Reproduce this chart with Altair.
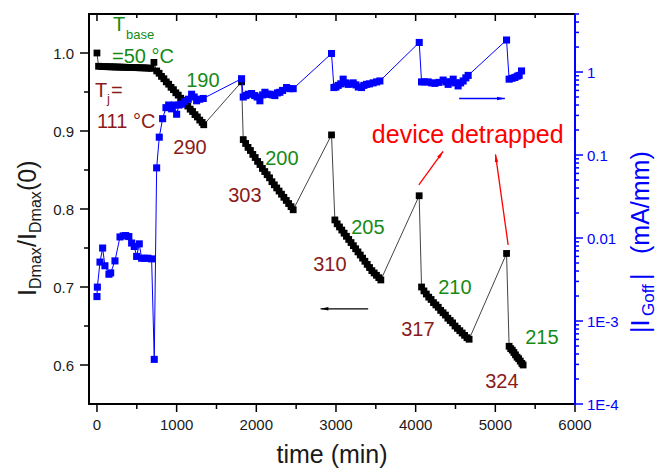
import altair as alt
import pandas as pd

# ---------------- data ----------------
# normalized drain current I_Dmax/I_Dmax(0) (left axis)
black_t = [0, 20, 50, 80, 110, 140, 170, 200, 230, 260, 290, 320, 350, 380, 410, 440, 470, 500,
           530, 560, 590, 620, 650, 680, 715,
           750, 780, 810, 840, 870, 900, 930, 960, 990, 1020, 1050, 1080, 1110, 1140, 1170, 1200,
           1230, 1260, 1290, 1320, 1340,
           1815,
           1836, 1866, 1896, 1926, 1956, 1986, 2016, 2046, 2076, 2106, 2136, 2166, 2196, 2226, 2256,
           2286, 2316, 2346, 2376, 2406, 2436, 2463,
           2944,
           2986, 3015, 3044, 3073, 3102, 3131, 3160, 3189, 3218, 3247, 3276, 3305, 3334, 3363, 3392,
           3421, 3450, 3479, 3508, 3537, 3563,
           4044,
           4074, 4104, 4134, 4164, 4194, 4224, 4254, 4284, 4314, 4344, 4374, 4404, 4434, 4464, 4494,
           4524, 4554, 4584, 4614, 4644, 4671,
           5141,
           5173, 5193, 5213, 5233, 5253, 5273, 5293, 5313, 5333, 5349]
black_v = [1.000, 0.9830, 0.9828, 0.9826, 0.9825, 0.9824, 0.9823, 0.9822, 0.9821, 0.9820, 0.9819,
           0.9818, 0.9817, 0.9816, 0.9815, 0.9814, 0.9813, 0.9812, 0.9811, 0.9810, 0.9809, 0.9808,
           0.9806, 0.9803, 0.988,
           0.977, 0.974, 0.970, 0.967, 0.963, 0.960, 0.956, 0.953, 0.949, 0.946, 0.942, 0.939, 0.935,
           0.932, 0.928, 0.925, 0.921, 0.918, 0.914, 0.911, 0.908,
           0.963,
           0.889, 0.884, 0.879, 0.875, 0.870, 0.866, 0.861, 0.857, 0.852, 0.848, 0.844, 0.840, 0.835,
           0.831, 0.827, 0.823, 0.819, 0.815, 0.811, 0.807, 0.803, 0.799,
           0.895,
           0.786, 0.781, 0.777, 0.773, 0.769, 0.765, 0.761, 0.757, 0.753, 0.749, 0.745, 0.741, 0.737,
           0.733, 0.729, 0.725, 0.721, 0.718, 0.715, 0.712, 0.709,
           0.817,
           0.700, 0.695, 0.691, 0.687, 0.684, 0.680, 0.677, 0.674, 0.670, 0.667, 0.664, 0.660, 0.657,
           0.654, 0.650, 0.647, 0.644, 0.641, 0.638, 0.635, 0.633,
           0.743,
           0.624, 0.621, 0.619, 0.616, 0.613, 0.610, 0.608, 0.605, 0.602, 0.600]

# gate off-state leakage |I_Goff| in mA/mm (right axis, log)
blue_t = [0, 5, 38, 71, 100, 150, 172, 226, 289, 330, 360, 400, 435, 468, 498, 531, 561, 600, 640,
          686, 719, 749, 782, 824, 866, 900, 937, 970, 1000, 1030, 1063, 1100, 1146, 1188, 1220,
          1251, 1290, 1334,
          1815, 1836, 1870, 1899, 1941, 1980, 2010, 2045, 2080, 2108, 2140, 2171, 2200, 2233, 2265,
          2296, 2330, 2380, 2420, 2463,
          2944, 2974, 3000, 3028, 3060, 3090, 3120, 3153, 3185, 3216, 3250, 3280, 3321, 3350, 3384,
          3420, 3467, 3510, 3551,
          4045, 4074, 4110, 4157, 4200, 4241, 4290, 4345, 4380, 4408, 4440, 4471, 4500, 4533, 4565,
          4596, 4630, 4659,
          5141, 5173, 5210, 5245, 5275, 5299, 5329]
blue_v = [0.00197, 0.00256, 0.00513, 0.00757, 0.00463, 0.00366, 0.0038, 0.0053, 0.0103, 0.0106,
          0.0107, 0.0104, 0.0087, 0.0079, 0.0060, 0.0085, 0.0057, 0.0057, 0.0057, 0.0056, 0.000345,
          0.070, 0.164, 0.274, 0.372, 0.40, 0.36, 0.40, 0.31, 0.40, 0.41, 0.44, 0.47, 0.54, 0.50,
          0.45, 0.47, 0.48,
          0.83, 0.50, 0.52, 0.54, 0.55, 0.52, 0.50, 0.45, 0.53, 0.57, 0.54, 0.54, 0.53, 0.52, 0.56,
          0.57, 0.60, 0.65, 0.63, 0.63,
          1.67, 0.65, 0.66, 0.69, 0.72, 0.82, 0.74, 0.71, 0.72, 0.74, 0.70, 0.66, 0.65, 0.69, 0.71,
          0.72, 0.74, 0.76, 0.78,
          2.27, 0.76, 0.76, 0.76, 0.74, 0.73, 0.75, 0.80, 0.76, 0.71, 0.76, 0.82, 0.74, 0.68, 0.74,
          0.78, 0.85, 0.91,
          2.43, 0.82, 0.84, 0.86, 0.89, 0.91, 1.03]

# annotation labels
green_labels = ["190", "200", "205", "210", "215"]
green_label_t = [1330, 2321, 3400, 4492, 5584]
green_label_v = [0.957, 0.857, 0.768, 0.691, 0.627]
red_labels = ["290", "303", "310", "317", "324"]
red_label_t = [1167, 1857, 2923, 4028, 5082]
red_label_v = [0.871, 0.809, 0.720, 0.637, 0.570]

# axis ticks and tick labels
x_major = [0, 1000, 2000, 3000, 4000, 5000, 6000]
x_labels = ["0", "1000", "2000", "3000", "4000", "5000", "6000"]
x_minor = [500, 1500, 2500, 3500, 4500, 5500]
left_major = [0.6, 0.7, 0.8, 0.9, 1.0]
left_labels = ["0.6", "0.7", "0.8", "0.9", "1.0"]
left_minor = [0.65, 0.75, 0.85, 0.95]
right_major = [0.0001, 0.001, 0.01, 0.1, 1.0]
right_labels = ["1E-4", "1E-3", "0.01", "0.1", "1"]
right_minor = [0.0002, 0.0003, 0.0004, 0.0005, 0.0006, 0.0007, 0.0008, 0.0009,
               0.002, 0.003, 0.004, 0.005, 0.006, 0.007, 0.008, 0.009,
               0.02, 0.03, 0.04, 0.05, 0.06, 0.07, 0.08, 0.09,
               0.2, 0.3, 0.4, 0.5, 0.6, 0.7, 0.8, 0.9,
               2, 3, 4, 5]

W, H = 486, 390
FONT = "Liberation Sans"
GREEN = "#168a16"
MAROON = "#8b1a1a"
INK = "#1a1a1a"

df_black = pd.DataFrame({"t": black_t, "v": black_v})
df_blue = pd.DataFrame({"t": blue_t, "v": blue_v})

xscale = alt.Scale(domain=[-100, 6000], nice=False, zero=False)
lscale = alt.Scale(domain=[0.55, 1.05], nice=False, zero=False)
rscale = alt.Scale(type="log", domain=[1e-4, 5], nice=False)

XN = dict(scale=xscale, axis=None)
LN = dict(scale=lscale, axis=None)
RN = dict(scale=rscale, axis=None)
ONE = pd.DataFrame({"a": [0]})

# ---------------- left (linear) group ----------------
black_line = alt.Chart(df_black).mark_line(color="#444", strokeWidth=1).encode(
    x=alt.X("t:Q", **XN), y=alt.Y("v:Q", **LN), order="t:Q")
black_pts = alt.Chart(df_black).mark_square(size=46, color="black", opacity=1).encode(
    x=alt.X("t:Q", **XN), y=alt.Y("v:Q", **LN))


def txt(text, t, v, color, size):
    return alt.Chart(pd.DataFrame({"t": [t], "v": [v]})).mark_text(
        text=text, color=color, fontSize=size, font=FONT, align="left", baseline="alphabetic"
    ).encode(x=alt.X("t:Q", **XN), y=alt.Y("v:Q", **LN))


df_gl = pd.DataFrame({"t": green_label_t, "v": green_label_v, "s": green_labels})
df_rl = pd.DataFrame({"t": red_label_t, "v": red_label_v, "s": red_labels})
green_txt = alt.Chart(df_gl).mark_text(color=GREEN, fontSize=20, font=FONT,
                                       align="center", baseline="alphabetic").encode(
    x=alt.X("t:Q", **XN), y=alt.Y("v:Q", **LN), text="s:N")
red_txt = alt.Chart(df_rl).mark_text(color=MAROON, fontSize=20, font=FONT,
                                     align="center", baseline="alphabetic").encode(
    x=alt.X("t:Q", **XN), y=alt.Y("v:Q", **LN), text="s:N")

annots = [
    txt("T", 201, 1.0277, GREEN, 20),
    txt("base", 364, 1.0183, GREEN, 13),
    txt("=50 °C", 188, 0.9876, GREEN, 20),
    txt("T", -25, 0.944, MAROON, 20),
    txt("j", 125, 0.936, MAROON, 13),
    txt("=", 176, 0.944, MAROON, 20),
    txt("111 °C", 0, 0.904, MAROON, 20),
    txt("device detrapped", 3450, 0.885, "red", 25),
]

# arrows (left scale)
arrow_df = pd.DataFrame({
    "t": [3404, 4040, 5161], "v": [0.672, 0.831, 0.754],
    "t2": [2807, 4345, 5002], "v2": [0.672, 0.874, 0.870],
    "c": ["black", "red", "red"], "ang": [270, 36, 352],
})
arrow_lines = alt.Chart(arrow_df).mark_rule(strokeWidth=1.3).encode(
    x=alt.X("t:Q", **XN), y=alt.Y("v:Q", **LN),
    x2="t2:Q", y2="v2:Q", color=alt.Color("c:N", scale=None),
)
HEAD = "M0,0L0.45,2L-0.45,2Z"
arrow_heads = alt.Chart(arrow_df).mark_point(shape=HEAD, filled=True, size=60, opacity=1).encode(
    x=alt.X("t2:Q", **XN), y=alt.Y("v2:Q", **LN),
    color=alt.Color("c:N", scale=None), angle=alt.Angle("ang:Q", scale=None),
)

# ---- frame, ticks and tick labels drawn through the scales ----
def hrule(y, x1, x2, color, w):
    return alt.Chart(ONE).mark_rule(color=color, strokeWidth=w).encode(
        x=alt.value(x1), x2=alt.value(x2), y=alt.value(y))


def vrule(x, y1, y2, color, w):
    return alt.Chart(ONE).mark_rule(color=color, strokeWidth=w).encode(
        y=alt.value(y1), y2=alt.value(y2), x=alt.value(x))


def xticks(vals, y1, y2):
    return alt.Chart(pd.DataFrame({"t": vals})).mark_rule(color="black", strokeWidth=1.5).encode(
        x=alt.X("t:Q", **XN), y=alt.value(y1), y2=alt.value(y2))


frame = [
    hrule(0, -1, W, "black", 2),
    hrule(H, -1, W, "black", 2),
    vrule(0, 0, H + 1, "black", 2),
    xticks(x_major, 0, 7), xticks(x_minor, 0, 4),
    xticks(x_major, H, H + 8), xticks(x_minor, H, H + 5),
]
x_lab = alt.Chart(pd.DataFrame({"t": x_major, "s": x_labels})).mark_text(
    font=FONT, fontSize=15, color=INK, align="center", baseline="alphabetic").encode(
    x=alt.X("t:Q", **XN), y=alt.value(H + 26), text="s:N")
l_major_t = alt.Chart(pd.DataFrame({"v": left_major})).mark_rule(color="black", strokeWidth=1.5).encode(
    y=alt.Y("v:Q", **LN), x=alt.value(0), x2=alt.value(-9))
l_minor_t = alt.Chart(pd.DataFrame({"v": left_minor})).mark_rule(color="black", strokeWidth=1.5).encode(
    y=alt.Y("v:Q", **LN), x=alt.value(0), x2=alt.value(-5))
l_lab = alt.Chart(pd.DataFrame({"v": left_major, "s": left_labels})).mark_text(
    font=FONT, fontSize=15, color=INK, align="right", baseline="middle", dy=1).encode(
    y=alt.Y("v:Q", **LN), x=alt.value(-15), text="s:N")
x_title = alt.Chart(ONE).mark_text(
    text="time (min)", font=FONT, fontSize=25, color=INK, align="center", baseline="alphabetic"
).encode(x=alt.value(243), y=alt.value(H + 59))

left_group = alt.layer(black_line, black_pts, green_txt, red_txt, *annots,
                       arrow_lines, arrow_heads, *frame, x_lab, l_major_t, l_minor_t, l_lab, x_title)

# ---------------- right (log) group ----------------
blue_line = alt.Chart(df_blue).mark_line(color="blue", strokeWidth=1).encode(
    x=alt.X("t:Q", **XN), y=alt.Y("v:Q", **RN), order="t:Q")
blue_pts = alt.Chart(df_blue).mark_square(size=50, color="blue", opacity=1).encode(
    x=alt.X("t:Q", **XN), y=alt.Y("v:Q", **RN))
barrow_df = pd.DataFrame({"t": [4546], "v": [0.48], "t2": [5119], "v2": [0.48], "ang": [90]})
barrow_line = alt.Chart(barrow_df).mark_rule(color="blue", strokeWidth=1.5).encode(
    x=alt.X("t:Q", **XN), y=alt.Y("v:Q", **RN), x2="t2:Q", y2="v2:Q")
barrow_head = alt.Chart(barrow_df).mark_point(shape=HEAD, filled=True, size=60, color="blue",
                                              opacity=1).encode(
    x=alt.X("t2:Q", **XN), y=alt.Y("v2:Q", **RN), angle=alt.Angle("ang:Q", scale=None))
r_major_t = alt.Chart(pd.DataFrame({"v": right_major})).mark_rule(color="blue", strokeWidth=1.5).encode(
    y=alt.Y("v:Q", **RN), x=alt.value(W), x2=alt.value(W + 8))
r_minor_t = alt.Chart(pd.DataFrame({"v": right_minor})).mark_rule(color="blue", strokeWidth=1.5).encode(
    y=alt.Y("v:Q", **RN), x=alt.value(W), x2=alt.value(W + 4))
r_lab = alt.Chart(pd.DataFrame({"v": right_major, "s": right_labels})).mark_text(
    font=FONT, fontSize=15, color="blue", align="left", baseline="middle", dy=1).encode(
    y=alt.Y("v:Q", **RN), x=alt.value(W + 12), text="s:N")
r_dom = vrule(W, 0, H + 1, "blue", 2)

right_group = alt.layer(blue_line, blue_pts, barrow_line, barrow_head,
                        r_dom, r_major_t, r_minor_t, r_lab)

# ---------------- axis titles with subscripts ----------------
def ptxt(text, px, py, color, size):
    return alt.Chart(ONE).mark_text(
        text=text, color=color, fontSize=size, font=FONT, angle=270,
        align="left", baseline="alphabetic").encode(x=alt.value(px), y=alt.value(py))


titles = alt.layer(
    ptxt("I", -53, 282, INK, 25),
    ptxt("Dmax", -48, 275, INK, 16),
    ptxt("/I", -53, 233, INK, 25),
    ptxt("Dmax", -48, 219, INK, 16),
    ptxt("(0)", -53, 177, INK, 25),
    ptxt("|I", 560, 319, "blue", 25),
    ptxt("Goff", 565, 302, "blue", 17),
    ptxt("|", 560, 266, "blue", 25),
    ptxt("(mA/mm)", 560, 240, "blue", 25),
)

chart = alt.layer(left_group, right_group, titles).resolve_scale(y="independent").properties(
    width=W, height=H,
    padding={"left": 89, "top": 14, "right": 82, "bottom": 68},
    autosize=alt.AutoSizeParams(type="none"),
).configure_view(stroke=None).configure(background="white")

chart.save("out.html", embed_options={"renderer": "svg", "actions": False})
